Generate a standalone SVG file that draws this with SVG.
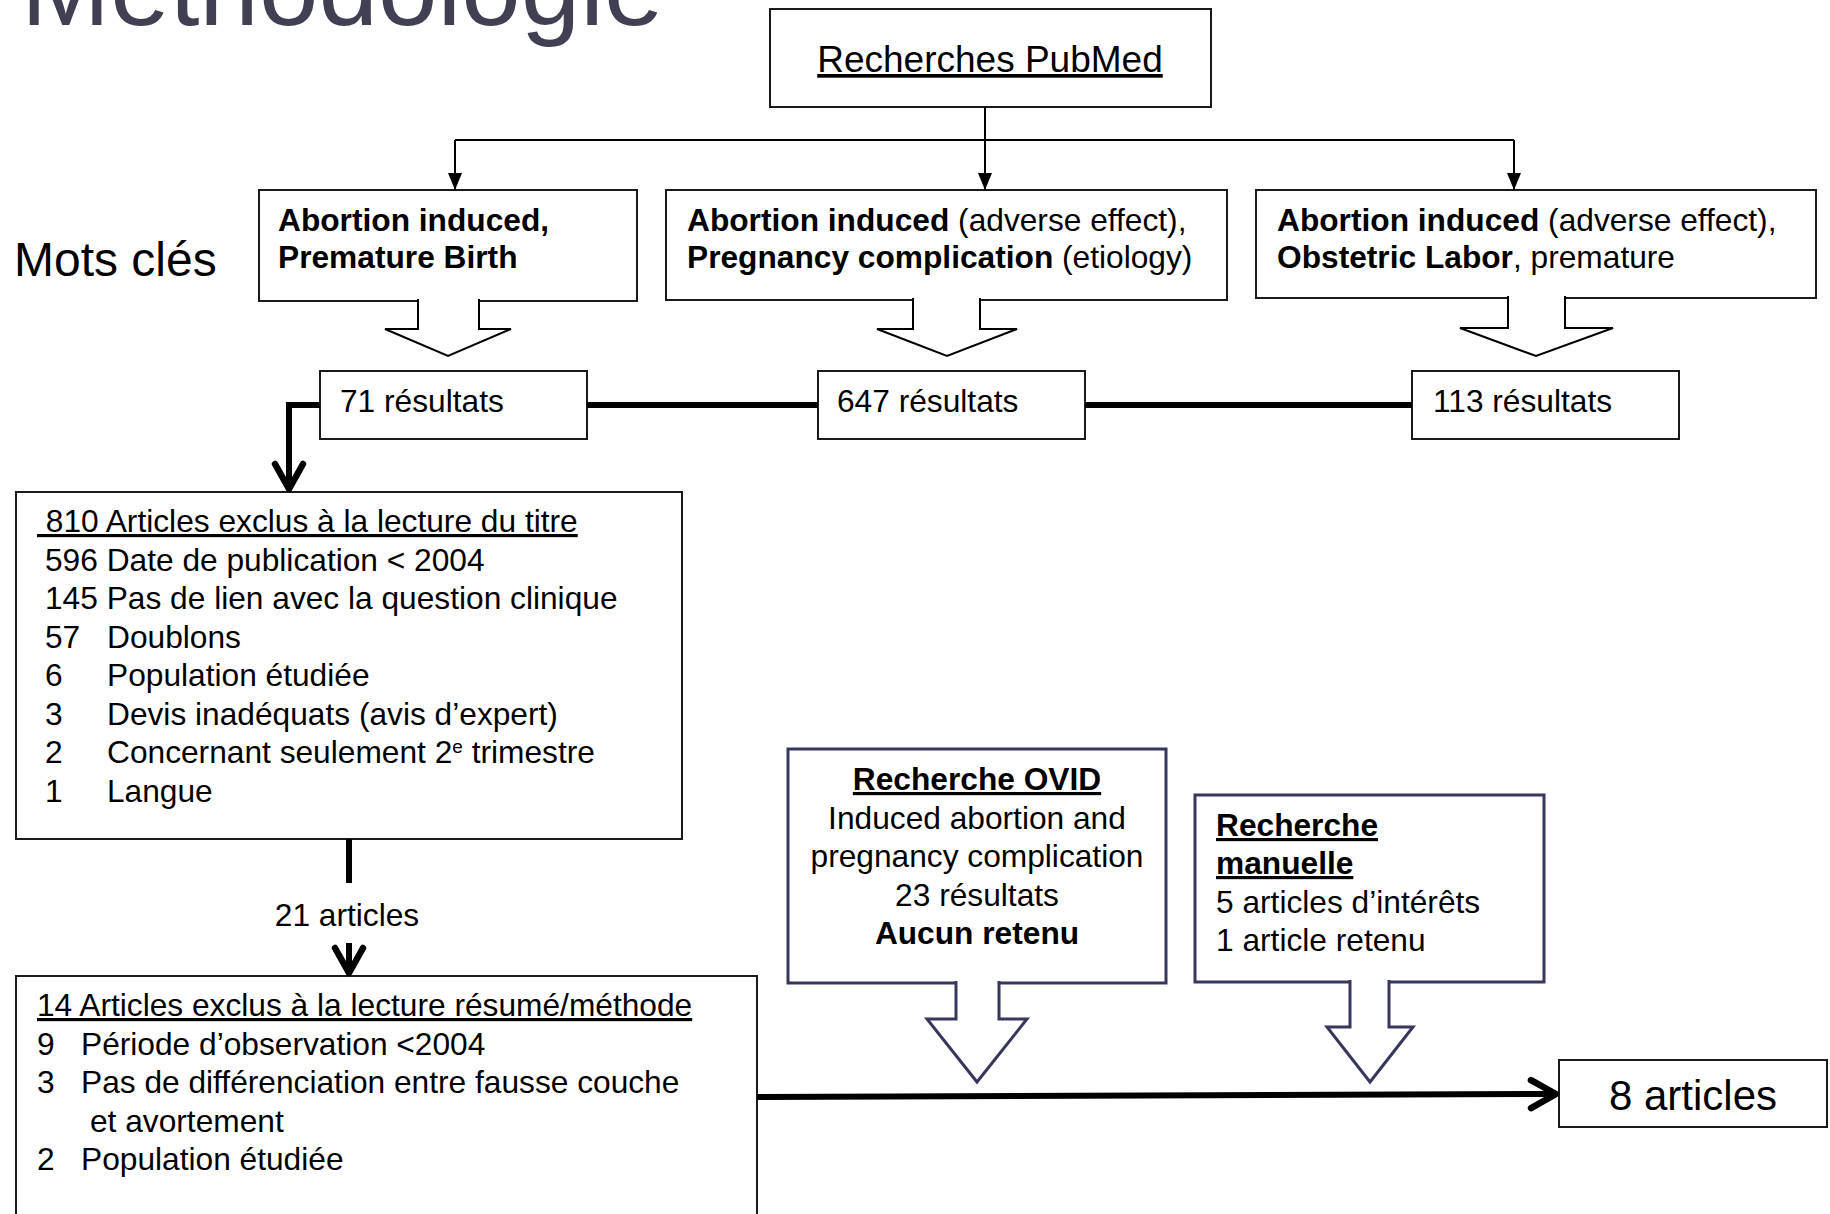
<svg xmlns="http://www.w3.org/2000/svg" width="1830" height="1214" viewBox="0 0 1830 1214">
<style>
.box{fill:#fff;stroke:#1a1a1a;stroke-width:2}
.nbox{fill:#fff;stroke:#37375c;stroke-width:3}
.t{font-family:"Liberation Sans",Arial,sans-serif;font-size:31.7px;fill:#000}
.b{font-weight:bold}
.u{text-decoration:underline}
.thin{fill:none;stroke:#000;stroke-width:2}
.thick{fill:none;stroke:#000;stroke-width:6}
.blk{fill:#fff;stroke:#000;stroke-width:2}
.nblk{fill:#fff;stroke:#37375c;stroke-width:3}
</style>
<defs>
<marker id="tri" markerUnits="userSpaceOnUse" viewBox="-18 -8 20 16" markerWidth="20" markerHeight="16" refX="0" refY="0" orient="auto">
<path d="M-17,-7 L0,0 L-17,7 Z" fill="#000"/>
</marker>
<marker id="chev" markerUnits="userSpaceOnUse" viewBox="-32 -18 40 36" markerWidth="40" markerHeight="36" refX="0" refY="0" orient="auto">
<path d="M-25,-14 L0,0 L-25,14" fill="none" stroke="#000" stroke-width="6.5" stroke-linecap="round" stroke-linejoin="round"/>
</marker>
</defs>
<rect width="1830" height="1214" fill="#fff"/>

<text x="21" y="25" style="font-family:'Liberation Sans',Arial,sans-serif;font-size:107px;fill:#404052">Méthodologie</text>
<text class="t" x="14" y="276" style="font-size:48px">Mots clés</text>

<g id="pubmed">
<rect class="box" x="770" y="9" width="441" height="98"/>
<text class="t u" x="990" y="72" text-anchor="middle" style="font-size:37px">Recherches PubMed</text>
</g>

<g id="kw1">
<rect class="box" x="259" y="190" width="378" height="111"/>
<text class="t b" x="278" y="231">Abortion induced,</text>
<text class="t b" x="278" y="268">Premature Birth</text>
</g>

<g id="kw2">
<rect class="box" x="666" y="190" width="561" height="110"/>
<text class="t" x="687" y="231"><tspan class="b">Abortion induced</tspan> (adverse effect),</text>
<text class="t" x="687" y="268"><tspan class="b">Pregnancy complication</tspan> (etiology)</text>
</g>

<g id="kw3">
<rect class="box" x="1256" y="190" width="560" height="108"/>
<text class="t" x="1277" y="231"><tspan class="b">Abortion induced</tspan> (adverse effect),</text>
<text class="t" x="1277" y="268"><tspan class="b">Obstetric Labor</tspan>, premature</text>
</g>

<g id="res71">
<rect class="box" x="320" y="371" width="267" height="68"/>
<text class="t" x="340" y="412">71 résultats</text>
</g>

<g id="res647">
<rect class="box" x="818" y="371" width="267" height="68"/>
<text class="t" x="837" y="412">647 résultats</text>
</g>

<g id="res113">
<rect class="box" x="1412" y="371" width="267" height="68"/>
<text class="t" x="1433" y="412">113 résultats</text>
</g>

<g id="excl1">
<rect class="box" x="16" y="492" width="666" height="347"/>
<text class="t u" x="37" y="532" xml:space="preserve"> 810 Articles exclus à la lecture du titre</text>
<text class="t" x="45" y="570.5">596 Date de publication &lt; 2004</text>
<text class="t" x="45" y="609">145 Pas de lien avec la question clinique</text>
<text class="t" x="45" y="647.5">57<tspan x="107">Doublons</tspan></text>
<text class="t" x="45" y="686">6<tspan x="107">Population étudiée</tspan></text>
<text class="t" x="45" y="724.5">3<tspan x="107">Devis inadéquats (avis d’expert)</tspan></text>
<text class="t" x="45" y="763">2<tspan x="107">Concernant seulement 2</tspan><tspan dy="-10" style="font-size:19px">e</tspan><tspan dy="10"> trimestre</tspan></text>
<text class="t" x="45" y="801.5">1<tspan x="107">Langue</tspan></text>
</g>

<g id="excl2">
<rect class="box" x="16" y="976" width="741" height="260"/>
<text class="t u" x="37" y="1016">14 Articles exclus à la lecture résumé/méthode</text>
<text class="t" x="37" y="1055">9<tspan x="81">Période d’observation &lt;2004</tspan></text>
<text class="t" x="37" y="1093">3<tspan x="81">Pas de différenciation entre fausse couche</tspan></text>
<text class="t" x="90" y="1132">et avortement</text>
<text class="t" x="37" y="1170">2<tspan x="81">Population étudiée</tspan></text>
</g>

<g id="ovid">
<rect class="nbox" x="788" y="749" width="378" height="234"/>
<text class="t b u" x="977" y="790" text-anchor="middle">Recherche OVID</text>
<text class="t" x="977" y="829" text-anchor="middle">Induced abortion and</text>
<text class="t" x="977" y="867" text-anchor="middle">pregnancy complication</text>
<text class="t" x="977" y="906" text-anchor="middle">23 résultats</text>
<text class="t b" x="977" y="944" text-anchor="middle">Aucun retenu</text>
</g>

<g id="manuelle">
<rect class="nbox" x="1195" y="795" width="349" height="187"/>
<text class="t b u" x="1216" y="836">Recherche</text>
<text class="t b u" x="1216" y="874">manuelle</text>
<text class="t" x="1216" y="913">5 articles d’intérêts</text>
<text class="t" x="1216" y="951">1 article retenu</text>
</g>

<g id="final">
<rect class="box" x="1559" y="1060" width="268" height="67"/>
<text class="t" x="1693" y="1110" text-anchor="middle" style="font-size:42px">8 articles</text>
</g>

<g id="connectors">
<path class="thin" d="M985,107 V190" marker-end="url(#tri)"/>
<path class="thin" d="M455,140 H1514"/>
<path class="thin" d="M455,140 V190" marker-end="url(#tri)"/>
<path class="thin" d="M1514,140 V190" marker-end="url(#tri)"/>

<path class="blk" d="M418,299 V329 H385 L448,356 L511,329 H479 V299"/>
<path class="blk" d="M913,298 V329 H877 L947,356 L1017,329 H980 V298"/>
<path class="blk" d="M1508,296 V328 H1460 L1536,356 L1613,328 H1565 V296"/>

<path class="thick" d="M587,405 H818"/>
<path class="thick" d="M1085,405 H1412"/>
<path class="thick" d="M320,405 H289 V489" marker-end="url(#chev)"/>
<path class="thick" d="M349,839 V883"/>
<text class="t" x="347" y="926" text-anchor="middle">21 articles</text>
<path class="thick" d="M349,943 V973" marker-end="url(#chev)"/>
<path class="thick" d="M757,1097 L1556,1094" marker-end="url(#chev)"/>

<path class="nblk" d="M956,981 V1019 H927 L977,1082 L1027,1019 H999 V981"/>
<path class="nblk" d="M1350,980 V1027 H1327 L1370,1082 L1413,1027 H1389 V980"/>
</g>
</svg>
